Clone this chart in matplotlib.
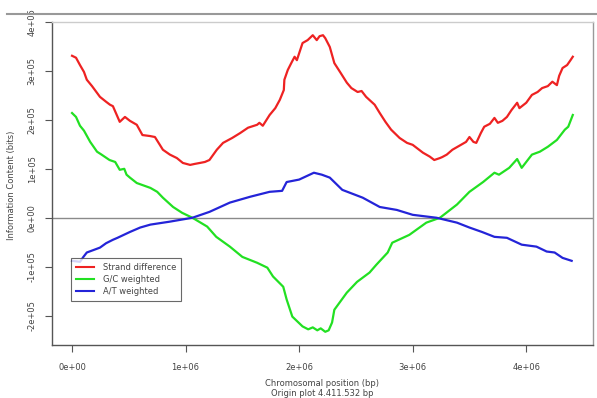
import matplotlib
matplotlib.use("Agg")
import matplotlib.pyplot as plt
from matplotlib.lines import Line2D

# ---- data (positions in Mb, values in 1e5 bits) ----
red_x = [0.0, 0.035, 0.07, 0.105, 0.13, 0.176, 0.246, 0.30, 0.334, 0.36, 0.42, 0.466, 0.51, 0.57, 0.62,
         0.686, 0.73, 0.757, 0.80, 0.862, 0.923, 0.976, 1.04, 1.08, 1.126, 1.17, 1.21, 1.275, 1.33, 1.41,
         1.48, 1.55, 1.63, 1.65, 1.68, 1.74, 1.79, 1.83, 1.865, 1.87, 1.90, 1.935, 1.96, 1.98, 2.03, 2.075,
         2.12, 2.155, 2.18, 2.21, 2.23, 2.27, 2.31, 2.36, 2.42, 2.46, 2.515, 2.55, 2.59, 2.665, 2.71, 2.76,
         2.81, 2.885, 2.95, 3.0, 3.09, 3.15, 3.19, 3.24, 3.26, 3.30, 3.35, 3.41, 3.47, 3.50, 3.535, 3.56,
         3.60, 3.63, 3.68, 3.72, 3.75, 3.79, 3.83, 3.87, 3.92, 3.94, 4.00, 4.05, 4.10, 4.14, 4.19, 4.23,
         4.27, 4.29, 4.32, 4.36, 4.39, 4.41]
red_y = [3.31, 3.27, 3.12, 2.98, 2.82, 2.69, 2.47, 2.37, 2.31, 2.28, 1.96, 2.06, 1.98, 1.90, 1.69,
         1.67, 1.65, 1.55, 1.39, 1.29, 1.22, 1.12, 1.08, 1.10, 1.12, 1.14, 1.18, 1.39, 1.53, 1.63,
         1.73, 1.84, 1.90, 1.94, 1.88, 2.10, 2.24, 2.41, 2.61, 2.82, 3.02, 3.18, 3.29, 3.22, 3.57, 3.63,
         3.73, 3.63, 3.71, 3.73, 3.67, 3.49, 3.16, 2.98, 2.76, 2.65, 2.57, 2.59, 2.47, 2.31, 2.14, 1.96,
         1.80, 1.63, 1.53, 1.49, 1.33, 1.25, 1.18, 1.22, 1.24, 1.29, 1.39, 1.47, 1.55, 1.65, 1.55, 1.53,
         1.73, 1.86, 1.92, 2.04, 1.94, 1.98, 2.06, 2.20, 2.35, 2.24, 2.35, 2.51, 2.57, 2.65, 2.69, 2.78,
         2.71, 2.90, 3.06, 3.12, 3.22, 3.29]

green_x = [0.0, 0.035, 0.07, 0.105, 0.16, 0.22, 0.26, 0.33, 0.38, 0.42, 0.46, 0.48, 0.51, 0.57, 0.69,
           0.75, 0.80, 0.89, 0.97, 1.06, 1.19, 1.27, 1.39, 1.50, 1.63, 1.72, 1.77, 1.86, 1.89, 1.94, 2.03,
           2.08, 2.12, 2.16, 2.19, 2.23, 2.26, 2.29, 2.31, 2.42, 2.51, 2.62, 2.68, 2.78, 2.82, 2.97, 3.12,
           3.24, 3.39, 3.50, 3.62, 3.72, 3.76, 3.85, 3.92, 3.96, 4.05, 4.12, 4.19, 4.27, 4.34, 4.37, 4.41]
green_y = [2.14, 2.06, 1.88, 1.78, 1.55, 1.35, 1.29, 1.18, 1.14, 0.98, 1.00, 0.88, 0.82, 0.71, 0.61,
           0.53, 0.41, 0.22, 0.10, 0.00, -0.18, -0.39, -0.59, -0.80, -0.92, -1.02, -1.20, -1.41, -1.67, -2.02, -2.22,
           -2.28, -2.24, -2.30, -2.26, -2.33, -2.30, -2.14, -1.88, -1.53, -1.31, -1.12, -0.96, -0.71, -0.51, -0.35, -0.10,
           0.00, 0.27, 0.53, 0.73, 0.92, 0.88, 1.02, 1.20, 1.02, 1.29, 1.35, 1.45, 1.59, 1.80, 1.86, 2.10]

blue_x = [0.0, 0.07, 0.10, 0.13, 0.20, 0.246, 0.30, 0.36, 0.40, 0.51, 0.60, 0.69, 0.86, 1.06, 1.21,
          1.39, 1.57, 1.74, 1.85, 1.89, 2.0, 2.13, 2.20, 2.27, 2.38, 2.56, 2.71, 2.86, 3.0, 3.21, 3.39,
          3.50, 3.61, 3.72, 3.83, 3.96, 4.09, 4.18, 4.25, 4.32, 4.40]
blue_y = [-0.88, -0.90, -0.80, -0.71, -0.65, -0.61, -0.52, -0.45, -0.41, -0.29, -0.20, -0.14, -0.08, 0.00, 0.12,
          0.31, 0.43, 0.53, 0.55, 0.73, 0.78, 0.92, 0.88, 0.82, 0.57, 0.41, 0.22, 0.16, 0.06, 0.00, -0.10,
          -0.20, -0.29, -0.39, -0.41, -0.55, -0.59, -0.69, -0.71, -0.82, -0.88]

series_labels = ["Strand difference", "G/C weighted", "A/T weighted"]
series_colors = ["#ee2222", "#22e022", "#2424d8"]

x_ticks = [0, 1e6, 2e6, 3e6, 4e6]
x_tick_labels = ["0e+00", "1e+06", "2e+06", "3e+06", "4e+06"]
y_ticks = [-2e5, -1e5, 0, 1e5, 2e5, 3e5, 4e5]
y_tick_labels = ["-2e+05", "-1e+05", "0e+00", "1e+05", "2e+05", "3e+05", "4e+05"]

W, H = 597, 398
fig = plt.figure(figsize=(W / 100, H / 100), dpi=100)
ax = fig.add_axes([52 / W, 1 - 345 / H, (593 - 52) / W, (345 - 22) / H])

tc = "#444444"
ax.axhline(0, color="#8a8a8a", lw=1.0, zorder=1)
series = [(red_x, red_y, series_colors[0]),
          (green_x, green_y, series_colors[1]),
          (blue_x, blue_y, series_colors[2])]
for xs, ys, c in series:
    ax.plot([v * 1e6 for v in xs], [v * 1e5 for v in ys], color=c, lw=1.6, zorder=2)

ax.set_xlim(-0.1765e6, 4.588e6)
ax.set_ylim(-2.6e5, 4.0e5)
ax.set_xticks(x_ticks)
ax.set_xticklabels(x_tick_labels)
ax.set_yticks(y_ticks)
ax.set_yticklabels(y_tick_labels, rotation=90, va="center")
ax.tick_params(axis="both", direction="out", length=5, width=0.8, color="#555555",
               labelsize=6, labelcolor=tc)
ax.tick_params(axis="x", pad=8)
ax.tick_params(axis="y", pad=6)

for s in ["left", "bottom"]:
    ax.spines[s].set_color("#555555")
    ax.spines[s].set_linewidth(1.0)
ax.spines["top"].set_color("#cccccc")
ax.spines["right"].set_color("#999999")
ax.spines["top"].set_linewidth(1.0)
ax.spines["right"].set_linewidth(1.0)

fig.text(12 / W, 1 - 185 / H, "Information Content (bits)", rotation=90, ha="center", va="center",
         fontsize=6, color=tc)
fig.text(322 / W, 1 - 383 / H, "Chromosomal position (bp)", ha="center", va="center", fontsize=6, color=tc)
fig.text(322 / W, 1 - 393 / H, "Origin plot 4.411.532 bp", ha="center", va="center", fontsize=6, color=tc)

# top separator line
fig.add_artist(Line2D([7 / W, 1.0], [1 - 14 / H, 1 - 14 / H], color="#999999", lw=1.5,
                      transform=fig.transFigure))

handles = [Line2D([], [], color=c, lw=1.5) for c in series_colors]
leg = ax.legend(handles, series_labels, loc="upper left",
                bbox_to_anchor=(71 / W, 1 - 258 / H), bbox_transform=fig.transFigure,
                fontsize=6, frameon=True, fancybox=False, handlelength=2.2, handletextpad=1.0,
                borderpad=0.6, labelspacing=0.35, borderaxespad=0)
leg.get_frame().set_edgecolor("#444444")
leg.get_frame().set_linewidth(0.8)
for t in leg.get_texts():
    t.set_color(tc)

fig.savefig("out.png", dpi=100)
